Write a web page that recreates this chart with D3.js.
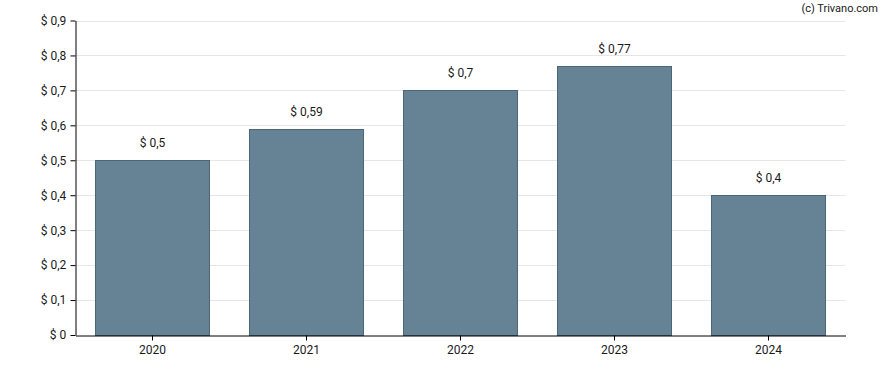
<!DOCTYPE html>
<html><head><meta charset="utf-8">
<script src="https://cdn.jsdelivr.net/npm/d3@7"></script>
<style>body{margin:0;background:#fff}svg{display:block}text{font-family:Roboto,"Noto Sans",sans-serif}</style>
</head><body>
<svg id="c" width="888" height="370"></svg>
<script>
const categories = ["2020","2021","2022","2023","2024"];
const values = [0.5, 0.59, 0.7, 0.77, 0.4];
const yTicks = [0,0.1,0.2,0.3,0.4,0.5,0.6,0.7,0.8,0.9];
const fmt = v => "$ " + String(+v.toFixed(2)).replace(".", ",");

const svg = d3.select("#c");
const m = {l:75.5, r:42.5, t:20.5, b:35};
const W = 888, H = 370;
const x = d3.scaleBand().domain(categories).range([m.l, W - m.r]).paddingInner(0.26).paddingOuter(0.13);
const y = d3.scaleLinear().domain([0,0.9]).range([H - m.b, m.t]);

// grid
svg.append("g").selectAll("line").data(yTicks.slice(1)).join("line")
  .attr("x1", m.l).attr("x2", W - m.r)
  .attr("y1", d => Math.round(y(d)) + 0.5).attr("y2", d => Math.round(y(d)) + 0.5)
  .attr("stroke", "#e6e6e6").attr("stroke-width", 1);

// bars
svg.append("g").selectAll("rect").data(values).join("rect")
  .attr("x", (d,i) => Math.floor(x(categories[i])) + 0.5)
  .attr("y", d => Math.round(y(d)) + 0.5)
  .attr("width", Math.round(x.bandwidth()))
  .attr("height", d => Math.round(y(0)) - Math.round(y(d)))
  .attr("fill", "#668395").attr("stroke", "#4b6579").attr("stroke-width", 1);

// value labels
svg.append("g").selectAll("text").data(values).join("text")
  .attr("x", (d,i) => x(categories[i]) + x.bandwidth()/2)
  .attr("y", d => y(d) - 13)
  .attr("text-anchor", "middle").attr("font-size", 12).attr("fill", "#1a1a1a")
  .text(d => fmt(d));

// axes
const gx = svg.append("g").attr("transform", `translate(0,${Math.round(y(0)) + 0.5})`)
  .call(d3.axisBottom(x).tickSize(5).tickSizeOuter(0));
const gy = svg.append("g").attr("transform", `translate(${m.l},0)`)
  .call(d3.axisLeft(y).tickValues(yTicks).tickSize(5).tickSizeOuter(0).tickFormat(fmt));
[gx, gy].forEach(g => {
  g.select(".domain").attr("stroke", "#000");
  g.selectAll(".tick line").attr("stroke", "#000");
  g.selectAll(".tick text").attr("font-size", 12).attr("fill", "#1a1a1a").attr("font-family", "Roboto,sans-serif");
});
gx.selectAll(".tick text").attr("dy", "0.9em");
gy.selectAll(".tick text").attr("dx", "-0.1em");

svg.append("text").attr("x", 878).attr("y", 12).attr("text-anchor", "end")
  .attr("font-size", 11).attr("fill", "#1a1a1a").text("(c) Trivano.com");
</script>
</body></html>
